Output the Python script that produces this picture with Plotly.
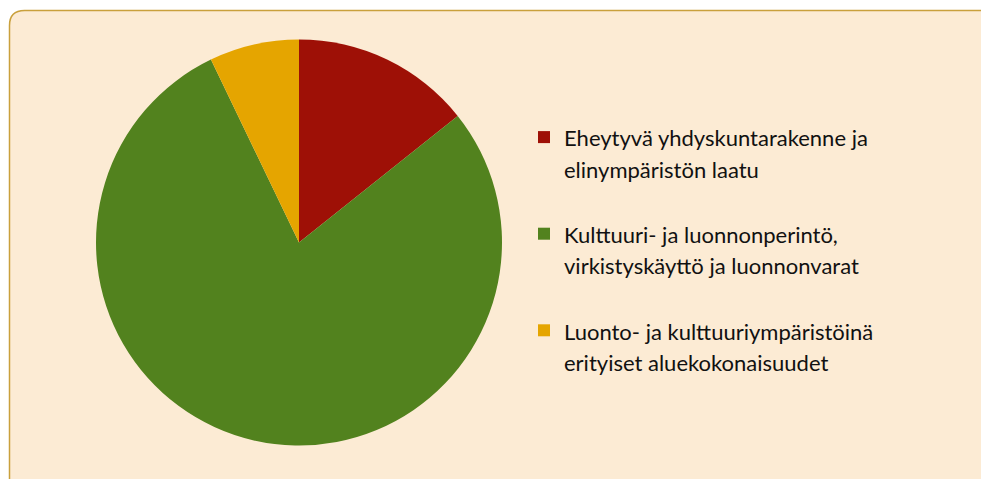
import plotly.graph_objects as go

label_lines = [
    ("Eheytyvä yhdyskuntarakenne ja", "elinympäristön laatu"),
    ("Kulttuuri- ja luonnonperintö,", "virkistyskäyttö ja luonnonvarat"),
    ("Luonto- ja kulttuuriympäristöinä", "erityiset aluekokonaisuudet"),
]
values = [2, 11, 1]
colors = ["#9E1006", "#52821E", "#E5A500"]

labels = [
    f'<span style="font-size:22px">{a}</span><br>'
    f'<span style="font-size:22px">{b}</span><br> '
    for a, b in label_lines
]

W, H = 981, 479

fig = go.Figure()
fig.add_trace(go.Pie(
    labels=labels,
    values=values,
    sort=False,
    direction="clockwise",
    rotation=0,
    textinfo="none",
    hoverinfo="percent",
    marker=dict(colors=colors, line=dict(width=0)),
    domain=dict(x=[96 / W, 502 / W], y=[(H - 446) / H, (H - 39) / H]),
))

# rounded panel background
x0, y0, r = 9.5 / W, 1 - 10.5 / H, 15
rx, ry = r / W, r / H
path = (f"M {x0},-0.1 L {x0},{y0 - ry} Q {x0},{y0} {x0 + rx},{y0} "
        f"L 1.1,{y0} L 1.1,-0.1 Z")
fig.add_shape(type="path", path=path, xref="paper", yref="paper",
              fillcolor="#FCEBD4", line=dict(color="#C9A03C", width=1.5),
              layer="below")

fig.update_layout(
    width=W, height=H,
    margin=dict(l=0, r=0, t=0, b=0),
    paper_bgcolor="white",
    plot_bgcolor="white",
    showlegend=True,
    legend=dict(
        x=524 / W, y=1 - 115 / H, xanchor="left", yanchor="top",
        valign="top",
        bgcolor="rgba(0,0,0,0)",
        font=dict(family="Lato", size=24, color="#111111"),
        traceorder="normal",
    ),
)

fig.write_html("out.html")
